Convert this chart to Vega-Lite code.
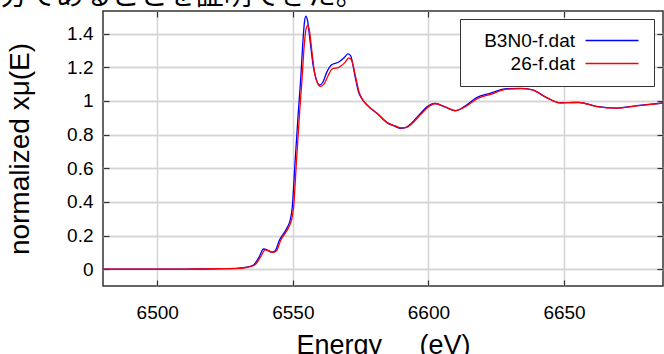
{
  "$schema": "https://vega.github.io/schema/vega-lite/v6.json",
  "autosize": "none",
  "width": 560,
  "height": 275,
  "padding": {"left": 103, "top": 11, "right": 1, "bottom": 68},
  "background": "white",
  "title": {
    "text": "分であることを証明できた。",
    "anchor": "start",
    "frame": "group",
    "orient": "top",
    "dx": -103,
    "offset": -23,
    "baseline": "alphabetic",
    "font": "Noto Sans CJK JP",
    "fontSize": 28,
    "fontWeight": "normal",
    "color": "#000000"
  },
  "config": {
    "view": {"stroke": "#333333", "strokeWidth": 1.5},
    "axis": {
      "labelFont": "Liberation Sans",
      "titleFont": "Liberation Sans",
      "labelColor": "#000000",
      "titleColor": "#000000",
      "titleFontWeight": "normal",
      "gridColor": "#d4d4d4",
      "gridWidth": 1.3,
      "tickColor": "#333333",
      "tickWidth": 1.2,
      "domain": false
    }
  },
  "data": {
    "values": [
      {"E": 6480, "v": 0.0, "s": "B3N0-f.dat"},
      {"E": 6500, "v": 0.0, "s": "B3N0-f.dat"},
      {"E": 6515, "v": 0.001, "s": "B3N0-f.dat"},
      {"E": 6525, "v": 0.003, "s": "B3N0-f.dat"},
      {"E": 6530, "v": 0.006, "s": "B3N0-f.dat"},
      {"E": 6533, "v": 0.012, "s": "B3N0-f.dat"},
      {"E": 6535.5, "v": 0.025, "s": "B3N0-f.dat"},
      {"E": 6537.5, "v": 0.07, "s": "B3N0-f.dat"},
      {"E": 6539.2, "v": 0.12, "s": "B3N0-f.dat"},
      {"E": 6540.5, "v": 0.115, "s": "B3N0-f.dat"},
      {"E": 6542, "v": 0.102, "s": "B3N0-f.dat"},
      {"E": 6543.5, "v": 0.11, "s": "B3N0-f.dat"},
      {"E": 6545, "v": 0.17, "s": "B3N0-f.dat"},
      {"E": 6546.5, "v": 0.21, "s": "B3N0-f.dat"},
      {"E": 6548, "v": 0.25, "s": "B3N0-f.dat"},
      {"E": 6549, "v": 0.29, "s": "B3N0-f.dat"},
      {"E": 6549.8, "v": 0.37, "s": "B3N0-f.dat"},
      {"E": 6550.8, "v": 0.63, "s": "B3N0-f.dat"},
      {"E": 6552, "v": 0.93, "s": "B3N0-f.dat"},
      {"E": 6552.9, "v": 1.13, "s": "B3N0-f.dat"},
      {"E": 6553.7, "v": 1.35, "s": "B3N0-f.dat"},
      {"E": 6554.3, "v": 1.47, "s": "B3N0-f.dat"},
      {"E": 6554.8, "v": 1.505, "s": "B3N0-f.dat"},
      {"E": 6555.4, "v": 1.48, "s": "B3N0-f.dat"},
      {"E": 6556.2, "v": 1.38, "s": "B3N0-f.dat"},
      {"E": 6557.5, "v": 1.21, "s": "B3N0-f.dat"},
      {"E": 6558.6, "v": 1.13, "s": "B3N0-f.dat"},
      {"E": 6559.8, "v": 1.095, "s": "B3N0-f.dat"},
      {"E": 6561, "v": 1.11, "s": "B3N0-f.dat"},
      {"E": 6562.5, "v": 1.17, "s": "B3N0-f.dat"},
      {"E": 6564.3, "v": 1.215, "s": "B3N0-f.dat"},
      {"E": 6566.8, "v": 1.23, "s": "B3N0-f.dat"},
      {"E": 6568.8, "v": 1.255, "s": "B3N0-f.dat"},
      {"E": 6570.3, "v": 1.28, "s": "B3N0-f.dat"},
      {"E": 6571.3, "v": 1.27, "s": "B3N0-f.dat"},
      {"E": 6572.9, "v": 1.15, "s": "B3N0-f.dat"},
      {"E": 6574.3, "v": 1.05, "s": "B3N0-f.dat"},
      {"E": 6575.4, "v": 1.015, "s": "B3N0-f.dat"},
      {"E": 6577.2, "v": 0.978, "s": "B3N0-f.dat"},
      {"E": 6580.9, "v": 0.929, "s": "B3N0-f.dat"},
      {"E": 6584.6, "v": 0.873, "s": "B3N0-f.dat"},
      {"E": 6587.5, "v": 0.85, "s": "B3N0-f.dat"},
      {"E": 6589.5, "v": 0.838, "s": "B3N0-f.dat"},
      {"E": 6591.5, "v": 0.842, "s": "B3N0-f.dat"},
      {"E": 6593.2, "v": 0.86, "s": "B3N0-f.dat"},
      {"E": 6597, "v": 0.925, "s": "B3N0-f.dat"},
      {"E": 6599.5, "v": 0.965, "s": "B3N0-f.dat"},
      {"E": 6602.4, "v": 0.985, "s": "B3N0-f.dat"},
      {"E": 6606, "v": 0.965, "s": "B3N0-f.dat"},
      {"E": 6609.8, "v": 0.942, "s": "B3N0-f.dat"},
      {"E": 6613.5, "v": 0.97, "s": "B3N0-f.dat"},
      {"E": 6617.8, "v": 1.02, "s": "B3N0-f.dat"},
      {"E": 6622.7, "v": 1.045, "s": "B3N0-f.dat"},
      {"E": 6628.9, "v": 1.073, "s": "B3N0-f.dat"},
      {"E": 6633.8, "v": 1.075, "s": "B3N0-f.dat"},
      {"E": 6638.1, "v": 1.068, "s": "B3N0-f.dat"},
      {"E": 6643.6, "v": 1.02, "s": "B3N0-f.dat"},
      {"E": 6648.5, "v": 0.99, "s": "B3N0-f.dat"},
      {"E": 6651, "v": 0.99, "s": "B3N0-f.dat"},
      {"E": 6655.3, "v": 0.992, "s": "B3N0-f.dat"},
      {"E": 6662, "v": 0.968, "s": "B3N0-f.dat"},
      {"E": 6669.4, "v": 0.958, "s": "B3N0-f.dat"},
      {"E": 6676.8, "v": 0.972, "s": "B3N0-f.dat"},
      {"E": 6686.5, "v": 0.988, "s": "B3N0-f.dat"},
      {"E": 6480, "v": 0.0, "s": "26-f.dat"},
      {"E": 6500, "v": 0.0, "s": "26-f.dat"},
      {"E": 6515, "v": 0.001, "s": "26-f.dat"},
      {"E": 6525, "v": 0.003, "s": "26-f.dat"},
      {"E": 6530, "v": 0.005, "s": "26-f.dat"},
      {"E": 6533, "v": 0.01, "s": "26-f.dat"},
      {"E": 6536, "v": 0.025, "s": "26-f.dat"},
      {"E": 6538, "v": 0.07, "s": "26-f.dat"},
      {"E": 6539.8, "v": 0.115, "s": "26-f.dat"},
      {"E": 6541, "v": 0.11, "s": "26-f.dat"},
      {"E": 6542.6, "v": 0.1, "s": "26-f.dat"},
      {"E": 6544, "v": 0.11, "s": "26-f.dat"},
      {"E": 6545.5, "v": 0.17, "s": "26-f.dat"},
      {"E": 6547, "v": 0.21, "s": "26-f.dat"},
      {"E": 6548.5, "v": 0.25, "s": "26-f.dat"},
      {"E": 6549.5, "v": 0.29, "s": "26-f.dat"},
      {"E": 6550.3, "v": 0.37, "s": "26-f.dat"},
      {"E": 6551.3, "v": 0.63, "s": "26-f.dat"},
      {"E": 6552.5, "v": 0.93, "s": "26-f.dat"},
      {"E": 6553.4, "v": 1.13, "s": "26-f.dat"},
      {"E": 6554.2, "v": 1.33, "s": "26-f.dat"},
      {"E": 6554.9, "v": 1.43, "s": "26-f.dat"},
      {"E": 6555.5, "v": 1.45, "s": "26-f.dat"},
      {"E": 6556.2, "v": 1.41, "s": "26-f.dat"},
      {"E": 6557, "v": 1.3, "s": "26-f.dat"},
      {"E": 6558, "v": 1.17, "s": "26-f.dat"},
      {"E": 6559, "v": 1.11, "s": "26-f.dat"},
      {"E": 6560.2, "v": 1.087, "s": "26-f.dat"},
      {"E": 6561.5, "v": 1.1, "s": "26-f.dat"},
      {"E": 6563, "v": 1.15, "s": "26-f.dat"},
      {"E": 6564.5, "v": 1.19, "s": "26-f.dat"},
      {"E": 6567, "v": 1.2, "s": "26-f.dat"},
      {"E": 6569, "v": 1.225, "s": "26-f.dat"},
      {"E": 6570.7, "v": 1.256, "s": "26-f.dat"},
      {"E": 6571.7, "v": 1.24, "s": "26-f.dat"},
      {"E": 6573.2, "v": 1.14, "s": "26-f.dat"},
      {"E": 6574.5, "v": 1.05, "s": "26-f.dat"},
      {"E": 6575.7, "v": 1.01, "s": "26-f.dat"},
      {"E": 6577.5, "v": 0.975, "s": "26-f.dat"},
      {"E": 6581.2, "v": 0.925, "s": "26-f.dat"},
      {"E": 6585, "v": 0.87, "s": "26-f.dat"},
      {"E": 6588, "v": 0.85, "s": "26-f.dat"},
      {"E": 6590, "v": 0.84, "s": "26-f.dat"},
      {"E": 6592, "v": 0.843, "s": "26-f.dat"},
      {"E": 6593.6, "v": 0.86, "s": "26-f.dat"},
      {"E": 6597.3, "v": 0.922, "s": "26-f.dat"},
      {"E": 6599.8, "v": 0.963, "s": "26-f.dat"},
      {"E": 6602.6, "v": 0.985, "s": "26-f.dat"},
      {"E": 6606.2, "v": 0.965, "s": "26-f.dat"},
      {"E": 6610, "v": 0.943, "s": "26-f.dat"},
      {"E": 6613.8, "v": 0.968, "s": "26-f.dat"},
      {"E": 6618.2, "v": 1.015, "s": "26-f.dat"},
      {"E": 6623, "v": 1.04, "s": "26-f.dat"},
      {"E": 6629, "v": 1.07, "s": "26-f.dat"},
      {"E": 6634, "v": 1.073, "s": "26-f.dat"},
      {"E": 6638.3, "v": 1.066, "s": "26-f.dat"},
      {"E": 6643.8, "v": 1.018, "s": "26-f.dat"},
      {"E": 6648.6, "v": 0.988, "s": "26-f.dat"},
      {"E": 6651, "v": 0.99, "s": "26-f.dat"},
      {"E": 6655.5, "v": 0.991, "s": "26-f.dat"},
      {"E": 6662, "v": 0.967, "s": "26-f.dat"},
      {"E": 6669.4, "v": 0.957, "s": "26-f.dat"},
      {"E": 6676.8, "v": 0.971, "s": "26-f.dat"},
      {"E": 6686.5, "v": 0.987, "s": "26-f.dat"}
    ]
  },
  "layer": [
    {
      "mark": {"type": "line", "opacity": 0},
      "encoding": {
        "x": {
          "field": "E", "type": "quantitative",
          "scale": {"domain": [6480, 6686.5], "nice": false, "zero": false},
          "axis": {"orient": "top", "values": [6500, 6550, 6600, 6650], "labels": false, "grid": true, "title": null, "tickSize": -6}
        },
        "y": {
          "field": "v", "type": "quantitative",
          "scale": {"domain": [-0.1, 1.535], "nice": false, "zero": false},
          "axis": {"orient": "right", "values": [0, 0.2, 0.4, 0.6, 0.8, 1, 1.2, 1.4], "labels": false, "grid": true, "title": null, "tickSize": -6}
        },
        "detail": {"field": "s"}
      }
    },
    {
      "mark": {"type": "line", "strokeWidth": 1.3, "interpolate": "monotone"},
      "encoding": {
        "x": {
          "field": "E", "type": "quantitative",
          "scale": {"domain": [6480, 6686.5], "nice": false, "zero": false},
          "axis": {"orient": "bottom", "values": [6500, 6550, 6600, 6650], "format": "d", "grid": true, "labelFontSize": 19, "labelPadding": 23, "tickSize": -6, "title": "Energy\u00a0\u00a0\u00a0\u00a0\u00a0(eV)", "titleFontSize": 27, "titlePadding": 10}
        },
        "y": {
          "field": "v", "type": "quantitative",
          "scale": {"domain": [-0.1, 1.535], "nice": false, "zero": false},
          "axis": {"orient": "left", "values": [0, 0.2, 0.4, 0.6, 0.8, 1, 1.2, 1.4], "format": ".1~f", "grid": true, "labelFontSize": 19, "labelPadding": 16, "tickSize": -6, "title": "normalized xμ(E)", "titleFontSize": 28, "titlePadding": 32}
        },
        "color": {
          "field": "s", "type": "nominal",
          "scale": {"domain": ["B3N0-f.dat", "26-f.dat"], "range": ["#0000ff", "#ff0000"]},
          "legend": {
            "orient": "none", "legendX": 357, "legendY": 8,
            "title": null,
            "labelFont": "Liberation Sans", "labelFontSize": 19, "labelColor": "#000000",
            "labelAlign": "right",
            "symbolType": "M-5.3,0H5.3", "symbolSize": 100, "symbolStrokeWidth": 1.3,
            "strokeColor": "#333333", "fillColor": "#ffffff", "padding": 12, "rowPadding": 3,
            "encode": {
              "labels": {"update": {"x": {"value": 103}, "align": {"value": "right"}}},
              "symbols": {"update": {"x": {"value": 140}}}
            }
          }
        }
      }
    }
  ],
  "resolve": {"axis": {"x": "independent", "y": "independent"}}
}
